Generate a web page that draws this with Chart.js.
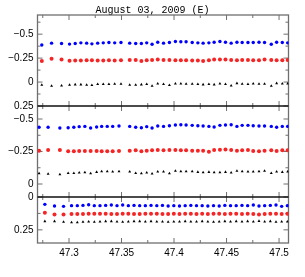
<!DOCTYPE html>
<html>
<head>
<meta charset="utf-8">
<script src="https://cdn.jsdelivr.net/npm/chart.js@4.4.1/dist/chart.umd.min.js"></script>
<style>
  body { margin: 0; background: #fff; }
  canvas { display: block; }
</style>
</head>
<body>
<canvas id="myChart" width="305" height="277"></canvas>
<script>
const title = 'August 03, 2009 (E)';

// sample times (x) for each panel
const timeTop = [47.2741, 47.2834, 47.2929, 47.3005, 47.3059, 47.3113, 47.3168, 47.3218, 47.3273, 47.3326, 47.3380, 47.3435, 47.3495, 47.3578, 47.3635, 47.3689, 47.3740, 47.3791, 47.3845, 47.3900, 47.3956, 47.4013, 47.4065, 47.4115, 47.4173, 47.4227, 47.4277, 47.4332, 47.4382, 47.4437, 47.4490, 47.4544, 47.4599, 47.4649, 47.4704, 47.4754, 47.4809, 47.4862, 47.4926, 47.4977, 47.5031, 47.5082];
const timeMid = [47.2715, 47.2801, 47.2913, 47.2992, 47.3046, 47.3097, 47.3151, 47.3206, 47.3263, 47.3311, 47.3364, 47.3416, 47.3476, 47.3578, 47.3635, 47.3689, 47.3740, 47.3791, 47.3845, 47.3900, 47.3956, 47.4013, 47.4065, 47.4115, 47.4173, 47.4227, 47.4277, 47.4332, 47.4382, 47.4437, 47.4490, 47.4544, 47.4599, 47.4649, 47.4704, 47.4754, 47.4809, 47.4862, 47.4926, 47.4977, 47.5031, 47.5082];
const timeBot = [47.2770, 47.2862, 47.2948, 47.3024, 47.3079, 47.3133, 47.3187, 47.3241, 47.3295, 47.3349, 47.3403, 47.3457, 47.3511, 47.3565, 47.3619, 47.3673, 47.3727, 47.3781, 47.3836, 47.3890, 47.3944, 47.3998, 47.4052, 47.4106, 47.4160, 47.4214, 47.4268, 47.4322, 47.4376, 47.4430, 47.4484, 47.4538, 47.4592, 47.4647, 47.4701, 47.4755, 47.4809, 47.4863, 47.4917, 47.4971, 47.5025, 47.5079];

// top panel
const topBlue = [-0.387, -0.406, -0.402, -0.396, -0.402, -0.409, -0.406, -0.399, -0.406, -0.409, -0.413, -0.409, -0.413, -0.406, -0.402, -0.402, -0.409, -0.395, -0.416, -0.406, -0.413, -0.423, -0.420, -0.420, -0.413, -0.409, -0.406, -0.409, -0.416, -0.423, -0.416, -0.406, -0.416, -0.413, -0.413, -0.413, -0.416, -0.413, -0.395, -0.416, -0.413, -0.409];
const topRed = [-0.220, -0.242, -0.235, -0.223, -0.225, -0.225, -0.228, -0.228, -0.225, -0.225, -0.228, -0.225, -0.228, -0.231, -0.231, -0.221, -0.228, -0.231, -0.235, -0.231, -0.231, -0.228, -0.228, -0.228, -0.225, -0.225, -0.221, -0.228, -0.235, -0.235, -0.235, -0.231, -0.228, -0.231, -0.231, -0.228, -0.228, -0.235, -0.231, -0.228, -0.228, -0.231];
const topBlack = [0.030, 0.040, 0.037, 0.030, 0.026, 0.026, 0.030, 0.033, 0.023, 0.023, 0.023, 0.020, 0.020, 0.030, 0.030, 0.026, 0.023, 0.040, 0.016, 0.023, 0.033, 0.016, 0.016, 0.020, 0.020, 0.023, 0.026, 0.023, 0.026, 0.016, 0.023, 0.037, 0.013, 0.020, 0.023, 0.016, 0.020, 0.020, 0.040, 0.013, 0.016, 0.016];

// middle panel
const midBlue = [-0.436, -0.436, -0.431, -0.433, -0.436, -0.441, -0.443, -0.431, -0.438, -0.443, -0.443, -0.443, -0.446, -0.443, -0.436, -0.433, -0.441, -0.431, -0.446, -0.443, -0.448, -0.454, -0.456, -0.454, -0.451, -0.448, -0.446, -0.443, -0.438, -0.451, -0.454, -0.456, -0.443, -0.451, -0.451, -0.448, -0.446, -0.446, -0.443, -0.436, -0.443, -0.443];
const midRed = [-0.256, -0.261, -0.261, -0.251, -0.251, -0.254, -0.254, -0.254, -0.254, -0.251, -0.251, -0.251, -0.254, -0.256, -0.259, -0.251, -0.256, -0.259, -0.261, -0.259, -0.261, -0.261, -0.259, -0.259, -0.256, -0.256, -0.256, -0.248, -0.261, -0.264, -0.266, -0.261, -0.256, -0.259, -0.261, -0.254, -0.251, -0.256, -0.259, -0.254, -0.259, -0.259];
const midBlack = [-0.082, -0.077, -0.074, -0.084, -0.084, -0.087, -0.089, -0.082, -0.092, -0.097, -0.097, -0.095, -0.097, -0.095, -0.084, -0.082, -0.087, -0.079, -0.095, -0.095, -0.082, -0.100, -0.097, -0.097, -0.097, -0.092, -0.089, -0.092, -0.089, -0.089, -0.092, -0.087, -0.100, -0.097, -0.095, -0.095, -0.097, -0.100, -0.084, -0.095, -0.092, -0.095];

// bottom panel
const botBlue = [0.056, 0.069, 0.071, 0.066, 0.066, 0.064, 0.059, 0.066, 0.066, 0.064, 0.061, 0.066, 0.061, 0.066, 0.064, 0.066, 0.066, 0.064, 0.066, 0.064, 0.069, 0.066, 0.069, 0.066, 0.064, 0.066, 0.066, 0.069, 0.066, 0.069, 0.064, 0.066, 0.066, 0.064, 0.066, 0.061, 0.069, 0.066, 0.064, 0.061, 0.071, 0.066];
const botRed = [0.120, 0.133, 0.133, 0.130, 0.130, 0.130, 0.128, 0.128, 0.128, 0.128, 0.130, 0.130, 0.128, 0.128, 0.130, 0.130, 0.128, 0.128, 0.128, 0.130, 0.130, 0.128, 0.130, 0.128, 0.128, 0.130, 0.128, 0.130, 0.128, 0.128, 0.130, 0.128, 0.128, 0.130, 0.128, 0.130, 0.133, 0.130, 0.128, 0.128, 0.130, 0.128];
const botBlack = [0.185, 0.185, 0.190, 0.193, 0.193, 0.190, 0.188, 0.190, 0.188, 0.185, 0.185, 0.188, 0.190, 0.188, 0.185, 0.185, 0.188, 0.185, 0.188, 0.188, 0.190, 0.188, 0.188, 0.185, 0.188, 0.188, 0.185, 0.188, 0.190, 0.188, 0.185, 0.188, 0.185, 0.188, 0.185, 0.188, 0.183, 0.188, 0.185, 0.190, 0.188, 0.188];

// tick values
const xMajor = [47.3, 47.35, 47.4, 47.45, 47.5];
const xMinor = [47.275, 47.325, 47.375, 47.425, 47.475];
const topTicks = [-0.5, -0.25, 0, 0.25];
const topMinor = [-0.625, -0.375, -0.125, 0.125];
const midTicks = [-0.5, -0.25, 0];
const midMinor = [-0.375, -0.125];
const botTicks = [0, 0.25];
const botMinor = [0.125];

const pts = (xs, ys) => xs.map((x, i) => ({ x: x, y: ys[i] }));

const blueStyle = { backgroundColor: '#0000ff', borderWidth: 0, pointRadius: 1.7, pointStyle: 'circle' };
const redStyle = { backgroundColor: '#f52525', borderWidth: 0, pointRadius: 2, pointStyle: 'circle' };
const blackStyle = { backgroundColor: '#000000', borderWidth: 0, pointRadius: 1.7, pointStyle: 'triangle' };

const minusFmt = (v) => (v < 0 ? '\u2212' + Math.abs(v) : String(v));

function yAxis(min, max, weight, ticks) {
  return {
    type: 'linear',
    position: 'left',
    stack: 'panels',
    stackWeight: weight,
    reverse: true,
    min: min,
    max: max,
    grid: { display: false, drawTicks: false },
    border: { display: false },
    afterBuildTicks: (s) => { s.ticks = ticks.map((v) => ({ value: v })); },
    afterFit: (s) => { s.width = 37.5; },
    ticks: {
      padding: 4,
      color: '#000',
      font: { family: 'Liberation Sans', size: 10 },
      callback: minusFmt,
    },
  };
}

const panels = [
  { id: 'yTop', minor: topMinor, major: topTicks },
  { id: 'yMid', minor: midMinor, major: midTicks },
  { id: 'yBot', minor: botMinor, major: botTicks },
];

const framePlugin = {
  id: 'frame',
  beforeDatasetsDraw(chart) {
    const { ctx, chartArea: a, scales } = chart;
    const x = scales.x;
    ctx.save();
    ctx.lineWidth = 1;
    ctx.strokeStyle = '#6f6f6f';
    ctx.beginPath();
    panels.forEach((p) => {
      const s = scales[p.id];
      xMajor.forEach((v) => {
        const px = x.getPixelForValue(v);
        ctx.moveTo(px, s.top); ctx.lineTo(px, s.top + 5);
        ctx.moveTo(px, s.bottom); ctx.lineTo(px, s.bottom - 5);
      });
      xMinor.forEach((v) => {
        const px = x.getPixelForValue(v);
        ctx.moveTo(px, s.top); ctx.lineTo(px, s.top + 3);
        ctx.moveTo(px, s.bottom); ctx.lineTo(px, s.bottom - 3);
      });
      p.major.forEach((v) => {
        const py = s.getPixelForValue(v);
        ctx.moveTo(a.left, py); ctx.lineTo(a.left + 5, py);
        ctx.moveTo(a.right, py); ctx.lineTo(a.right - 5, py);
      });
      p.minor.forEach((v) => {
        const py = s.getPixelForValue(v);
        ctx.moveTo(a.left, py); ctx.lineTo(a.left + 3, py);
        ctx.moveTo(a.right, py); ctx.lineTo(a.right - 3, py);
      });
    });
    ctx.stroke();
    ctx.lineWidth = 1.3;
    ctx.strokeRect(a.left, a.top, a.right - a.left, a.bottom - a.top);
    // panel separators
    ctx.strokeStyle = '#111';
    ctx.beginPath();
    [scales.yTop.bottom, scales.yMid.bottom].forEach((py) => {
      ctx.moveTo(a.left, py); ctx.lineTo(a.right, py);
    });
    ctx.stroke();
    ctx.restore();
  },
};

const ctx = document.getElementById('myChart').getContext('2d');

// eslint-disable-next-line
const chart = new Chart(ctx, {
  type: 'scatter',
  data: {
    datasets: [
      Object.assign({ data: pts(timeTop, topBlue), yAxisID: 'yTop' }, blueStyle),
      Object.assign({ data: pts(timeTop, topRed), yAxisID: 'yTop' }, redStyle),
      Object.assign({ data: pts(timeTop, topBlack), yAxisID: 'yTop' }, blackStyle),
      Object.assign({ data: pts(timeMid, midBlue), yAxisID: 'yMid' }, blueStyle),
      Object.assign({ data: pts(timeMid, midRed), yAxisID: 'yMid' }, redStyle),
      Object.assign({ data: pts(timeMid, midBlack), yAxisID: 'yMid' }, blackStyle),
      Object.assign({ data: pts(timeBot, botBlue), yAxisID: 'yBot' }, blueStyle),
      Object.assign({ data: pts(timeBot, botRed), yAxisID: 'yBot' }, redStyle),
      Object.assign({ data: pts(timeBot, botBlack), yAxisID: 'yBot' }, blackStyle),
    ],
  },
  options: {
    responsive: false,
    animation: false,
    devicePixelRatio: 1,
    layout: { padding: 0 },
    plugins: {
      legend: { display: false },
      tooltip: { enabled: false },
      title: {
        display: true,
        text: title,
        color: '#000',
        font: { family: 'Liberation Mono', size: 10, weight: 'normal', lineHeight: 0.9 },
        padding: { top: 6, bottom: 0 },
      },
    },
    scales: {
      x: {
        type: 'linear',
        position: 'bottom',
        min: 47.27,
        max: 47.509,
        grid: { display: false, drawTicks: false },
        border: { display: false },
        afterBuildTicks: (s) => { s.ticks = xMajor.map((v) => ({ value: v })); },
        afterFit: (s) => { s.height = 34; },
        ticks: {
          padding: 4,
          color: '#000',
          font: { family: 'Liberation Sans', size: 10 },
          maxRotation: 0,
          callback: (v) => String(v),
        },
      },
      // empty right-hand margin, keeps the title centred on the page
      yRight: {
        type: 'linear',
        position: 'right',
        grid: { display: false, drawTicks: false },
        border: { display: false },
        ticks: { display: false },
        afterFit: (s) => { s.width = 16.5; },
      },
      // stacked on the left: last listed ends up on top
      yBot: yAxis(0, 0.35, 46, botTicks),
      yMid: yAxis(-0.6, 0.1, 91, midTicks),
      yTop: yAxis(-0.7, 0.25, 91, topTicks),
    },
  },
  plugins: [framePlugin],
});
</script>
</body>
</html>
